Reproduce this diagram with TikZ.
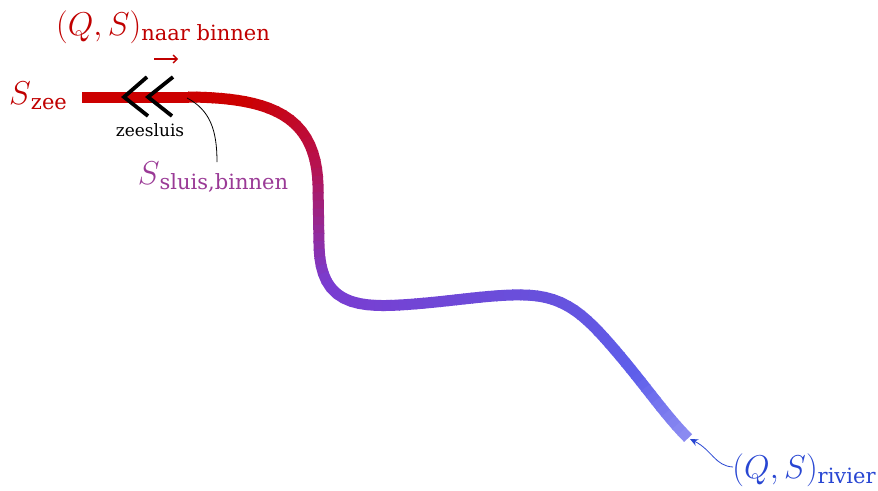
\RequirePackage{fix-cm}
\documentclass[tikz,border=0pt]{standalone}
\usepackage{fontspec}
\setmainfont{DejaVu Serif}
\usetikzlibrary{decorations.markings,arrows.meta}
% colour stops along the channel, from the sea to the river
\definecolor{stopA}{RGB}{204,0,0}
\definecolor{stopB}{RGB}{184,16,74}
\definecolor{stopC}{RGB}{122,60,208}
\definecolor{stopD}{RGB}{104,80,220}
\definecolor{stopE}{RGB}{94,94,234}
\definecolor{stopF}{RGB}{142,142,242}
\definecolor{labred}{RGB}{192,0,0}
\definecolor{labpurple}{RGB}{154,58,150}
\definecolor{labblue}{RGB}{40,70,210}
\newcommand{\bigQS}[1]{{\fontsize{33}{33}\selectfont$(Q,S)$}{\fontsize{21}{21}\selectfont\raisebox{-5pt}{#1}}}
\newcommand{\bigS}[1]{{\fontsize{33}{33}\selectfont$S$}{\fontsize{21}{21}\selectfont\raisebox{-5pt}{#1}}}
\newcommand{\rampcolor}[4]{% start, width, from, to -> segc
  \pgfmathsetmacro{\p}{100*(\f-#1)/#2}\colorlet{segc}{#4!\p!#3}}
\tikzset{
  lbl/.style={inner sep=0pt, anchor=base},
  chevron/.style={line width=3.8pt, black, line join=miter},
  leader/.style={line width=0.8pt},
}
\begin{document}
\begin{tikzpicture}[x=1pt,y=-1pt]
\useasboundingbox (0,0) rectangle (878,490);
% centre line of the channel, sampled every 1% of its length
\path[decorate, decoration={markings,
    mark=between positions 0 and 1 step 0.01 with
    {\coordinate (m\pgfkeysvalueof{/pgf/decoration/mark info/sequence number});}}]
  (83,97) -- (190,97)
  .. controls (270,98) and (316,115) .. (318,185)
  -- (319,245)
  .. controls (320,300) and (350,308) .. (400,305)
  .. controls (450,302) and (490,294) .. (525,295)
  .. controls (565,296) and (585,315) .. (615,350)
  .. controls (645,385) and (665,415) .. (688,438);
% channel drawn piece by piece with a colour running from sea to river
\foreach \i in {1,...,100}{
  \pgfmathtruncatemacro{\j}{\i+1}
  \pgfmathsetmacro{\f}{(\i-0.5)/100}
  \ifdim\f pt<0.2pt
    \colorlet{segc}{stopA}
  \else\ifdim\f pt<0.32pt
    \rampcolor{0.2}{0.12}{stopA}{stopB}
  \else\ifdim\f pt<0.47pt
    \rampcolor{0.32}{0.15}{stopB}{stopC}
  \else\ifdim\f pt<0.74pt
    \rampcolor{0.47}{0.27}{stopC}{stopD}
  \else\ifdim\f pt<0.9pt
    \rampcolor{0.74}{0.16}{stopD}{stopE}
  \else
    \rampcolor{0.9}{0.1}{stopE}{stopF}
  \fi\fi\fi\fi\fi
  \draw[segc, line width=11pt, line cap=butt, shorten <=-0.6pt, shorten >=-0.6pt]
    (m\i) -- (m\j);
}
% sea lock
\draw[chevron] (147,77) -- (124,97) -- (148,116);
\draw[chevron] (173,77) -- (148,97) -- (172,116);
\node[lbl, font=\fontsize{17}{17}\selectfont] (lock) at (150,136) {zeesluis};
% labels
\node[lbl, labred] (sea) at (38,104) {\bigS{zee}};
\node[lbl, labred] (inflow) at (163,35) {\bigQS{naar binnen}};
\node[lbl, labpurple] (inner) at (213,184) {\bigS{sluis,binnen}};
\node[lbl, labblue] (river) at (804,478) {\bigQS{rivier}};
% inflow direction
\coordinate (inA) at (154,59);
\coordinate (inB) at (178,59);
\draw[labred, line width=1.3pt, -{Straight Barb[length=4pt,width=8pt]}] (inA) -- (inB);
% leader from the lock's inner side
\coordinate (innerpt) at (187,98);
\coordinate (innertop) at (217,162);
\draw[leader] (innerpt) .. controls (210,110) and (217,130) .. (innertop);
% river inflow pointer
\coordinate (riverend) at (690,439);
\coordinate (riverfoot) at (733,467);
\draw[leader, labblue, -{Stealth[length=8pt,width=7pt]}]
  (riverfoot) .. controls (715,466) and (712,450) .. (riverend);
\end{tikzpicture}
\end{document}
